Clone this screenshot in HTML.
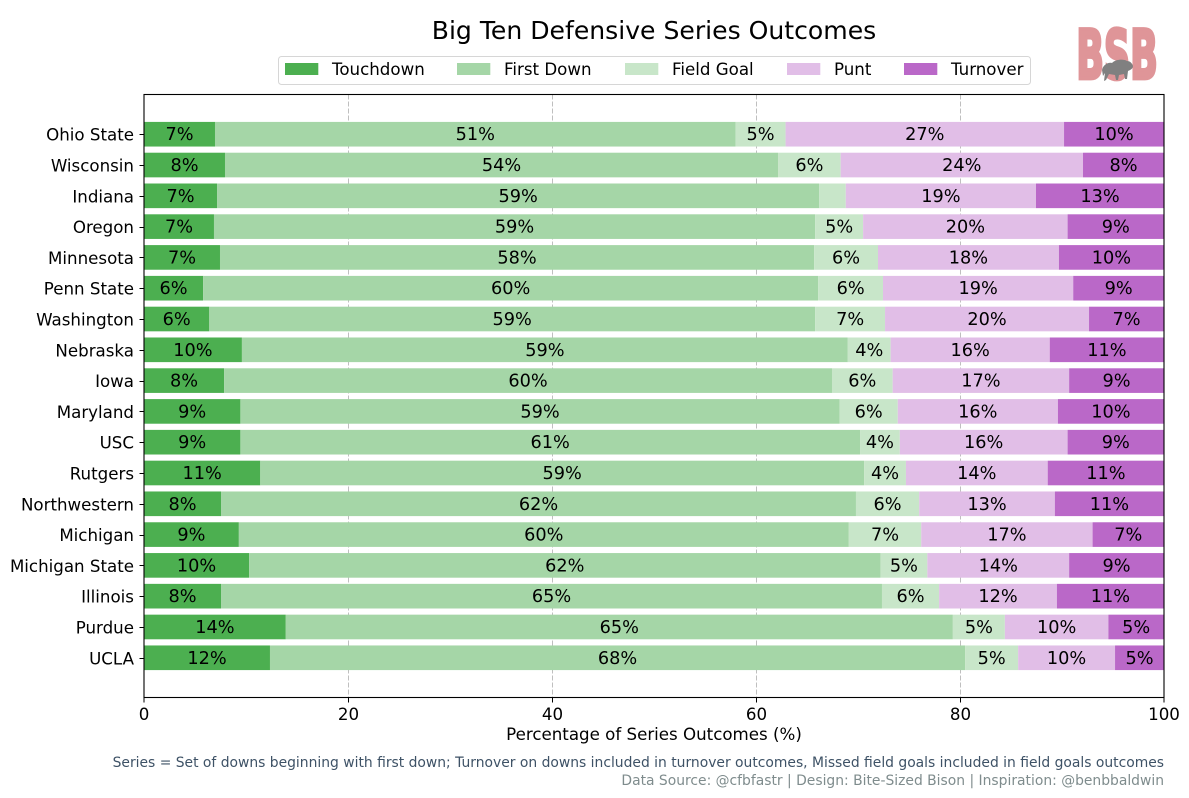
<!DOCTYPE html>
<html lang="en">
<head>
<meta charset="utf-8">
<title>Big Ten Defensive Series Outcomes</title>
<style>
html,body{margin:0;padding:0;background:#fff;}
svg{display:block;font-family:"DejaVu Sans","Liberation Sans",sans-serif;}
</style>
</head>
<body>
<svg id="chart" width="1189" height="798" viewBox="0 0 1189 798" xmlns="http://www.w3.org/2000/svg">
  <rect width="1189" height="798" fill="#ffffff"/>
  <text x="654" y="39" font-size="25.1px" text-anchor="middle" fill="#000">Big Ten Defensive Series Outcomes</text>

  <g>
    <text transform="translate(1076.2,78.5) scale(0.535,1)" font-size="68px" font-weight="700" fill="#df9598" stroke="#df9598" stroke-width="3" style="vector-effect:non-scaling-stroke">BSB</text>
    <path fill="#808080" d="M1102 70 C1103 65 1108 62 1112 63 C1116 59 1124 59 1127 61 C1130 61 1132 63 1133 66 C1133 69 1130 70 1128 71 L1127 79 L1125 79 L1124 74 L1119 75 L1118 80 L1116 80 L1115 75 L1109 74 L1106 80 L1104 81 L1105 73 L1103 76 Z"/>
  </g>

  <g id="legend">
    <rect x="278.5" y="56.5" width="752" height="28" rx="3" fill="#fff" stroke="#d6d6d6" stroke-width="1"/>
  </g>

  <g id="grid"></g>
  <g id="bars"></g>
  <g id="value-labels"></g>
  <g id="axes"></g>

  <text x="654" y="740" font-size="16.67px" text-anchor="middle" fill="#000">Percentage of Series Outcomes (%)</text>
  <text x="1164" y="767" font-size="13.89px" text-anchor="end" fill="#34495e" fill-opacity="0.95">Series = Set of downs beginning with first down; Turnover on downs included in turnover outcomes, Missed field goals included in field goals outcomes</text>
  <text x="1164" y="785" font-size="13.89px" text-anchor="end" fill="#7f8c8d">Data Source: @cfbfastr | Design: Bite-Sized Bison | Inspiration: @benbbaldwin</text>
</svg>
<script>
const teams = ["Ohio State","Wisconsin","Indiana","Oregon","Minnesota","Penn State","Washington","Nebraska","Iowa","Maryland","USC","Rutgers","Northwestern","Michigan","Michigan State","Illinois","Purdue","UCLA"];
const touchdown = [6.96,7.94,7.16,6.86,7.45,5.8,6.4,9.6,7.85,9.45,9.45,11.4,7.55,9.3,10.3,7.55,13.9,12.35];
const firstDown = [51.04,54.22,59.04,58.94,58.25,60.3,59.4,59.4,59.6,58.75,60.75,59.2,62.25,59.8,61.9,64.8,65.4,68.15];
const fieldGoal = [4.9,6.14,2.6,4.7,6.26,6.35,6.85,4.2,5.95,5.7,3.9,4.1,6.2,7.1,4.6,5.6,5.1,5.2];
const punt = [27.3,23.76,18.65,20.05,17.74,18.65,20.0,15.6,17.3,15.7,16.45,13.9,13.3,16.8,13.9,11.55,10.15,9.5];
const turnover = [9.8,7.94,12.55,9.45,10.3,8.9,7.35,11.2,9.3,10.4,9.45,11.4,10.7,7.0,9.3,10.5,5.45,4.8];
const seriesNames = ["Touchdown","First Down","Field Goal","Punt","Turnover"];
const seriesColors = ["#4caf50","#a5d6a7","#c8e6c9","#e1bee7","#ba68c8"];
const xTicks = [0,20,40,60,80,100];

const NS = "http://www.w3.org/2000/svg";
const seriesValues = [touchdown, firstDown, fieldGoal, punt, turnover];
const plotLeft = 144.5, plotRight = 1164.5, plotTop = 94.5, plotBottom = 697.5;
const unitY = (plotBottom - plotTop) / ((teams.length - 1 + 0.8) * 1.1);
const xScale = v => plotLeft - 0.5 + (v / 100) * (plotRight - plotLeft);
const yScale = i => plotTop + (0.4 + (teams.length - 1 + 0.8) * 0.05) * unitY + i * unitY;
const make = tag => document.createElementNS(NS, tag);
const slug = s => s.toLowerCase().replace(/\s+/g, "-");

const gridGroup = document.getElementById("grid");
const barGroup = document.getElementById("bars");
const labelGroup = document.getElementById("value-labels");
const axesGroup = document.getElementById("axes");
const legendGroup = document.getElementById("legend");

xTicks.forEach(t => {
  const px = Math.round(xScale(t)) + 0.5;
  if (t > 0 && t < 100) {
    const g = make("line");
    
    
    g.setAttribute("x1", px); g.setAttribute("x2", px);
    g.setAttribute("y1", plotTop); g.setAttribute("y2", plotBottom);
    g.setAttribute("stroke", "#bfbfbf");
    g.setAttribute("stroke-width", "1");
    g.setAttribute("stroke-dasharray", "5 2");
    gridGroup.appendChild(g);
  }
});

teams.forEach((team, i) => {
  const cy = yScale(i);
  const h = 0.8 * unitY;
  let acc = 0;
  seriesValues.forEach((vals, s) => {
    const v = vals[i];
    const x0 = xScale(acc), x1 = xScale(acc + v);
    const r = make("rect");
    
    
    r.setAttribute("x", x0);
    r.setAttribute("y", cy - h / 2);
    r.setAttribute("width", x1 - x0);
    r.setAttribute("height", h);
    r.setAttribute("fill", seriesColors[s]);
    barGroup.appendChild(r);
    if (v >= 3) {
      const t = make("text");
      
      
      t.setAttribute("x", (x0 + x1) / 2);
      t.setAttribute("y", cy + 6);
      t.setAttribute("font-size", "17.7px");
      t.setAttribute("text-anchor", "middle");
      t.setAttribute("fill", "#000");
      t.textContent = Math.round(v) + "%";
      labelGroup.appendChild(t);
    }
    acc += v;
  });

  const tick = make("line");
  
  
  const ty = Math.round(cy) + 0.5;
  tick.setAttribute("x1", plotLeft - 5); tick.setAttribute("x2", plotLeft);
  tick.setAttribute("y1", ty); tick.setAttribute("y2", ty);
  tick.setAttribute("stroke", "#000");
  axesGroup.appendChild(tick);

  const lab = make("text");
  
  
  lab.setAttribute("x", plotLeft - 10.5);
  lab.setAttribute("y", cy + 6.5);
  lab.setAttribute("font-size", "16.67px");
  lab.setAttribute("text-anchor", "end");
  lab.setAttribute("fill", "#000");
  lab.textContent = team;
  axesGroup.appendChild(lab);
});

const frame = make("rect");


frame.setAttribute("x", plotLeft - 0.5);
frame.setAttribute("y", plotTop);
frame.setAttribute("width", plotRight - plotLeft);
frame.setAttribute("height", plotBottom - plotTop);
frame.setAttribute("fill", "none");
frame.setAttribute("stroke", "#000");
frame.setAttribute("stroke-width", "1.1");
axesGroup.appendChild(frame);

xTicks.forEach(t => {
  const px = Math.round(xScale(t)) + (t === 0 || t === 100 ? 0 : 0.5);
  const tick = make("line");
  
  
  tick.setAttribute("x1", px); tick.setAttribute("x2", px);
  tick.setAttribute("y1", plotBottom); tick.setAttribute("y2", plotBottom + 5);
  tick.setAttribute("stroke", "#000");
  axesGroup.appendChild(tick);

  const lab = make("text");
  
  
  lab.setAttribute("x", px);
  lab.setAttribute("y", 720);
  lab.setAttribute("font-size", "16.67px");
  lab.setAttribute("text-anchor", "middle");
  lab.setAttribute("fill", "#000");
  lab.textContent = t;
  axesGroup.appendChild(lab);
});

const legendSwatchOffsets = [285, 457, 625, 787, 904];
seriesNames.forEach((name, s) => {
  const x = legendSwatchOffsets[s];
  const sw = make("rect");
  
  
  sw.setAttribute("x", x);
  sw.setAttribute("y", 63);
  sw.setAttribute("width", 33.3);
  sw.setAttribute("height", 12);
  sw.setAttribute("fill", seriesColors[s]);
  legendGroup.appendChild(sw);

  const t = make("text");
  
  
  t.setAttribute("x", x + 47);
  t.setAttribute("y", 75);
  t.setAttribute("font-size", "16.67px");
  t.setAttribute("fill", "#000");
  t.textContent = name;
  legendGroup.appendChild(t);
});
</script>
</body>
</html>
